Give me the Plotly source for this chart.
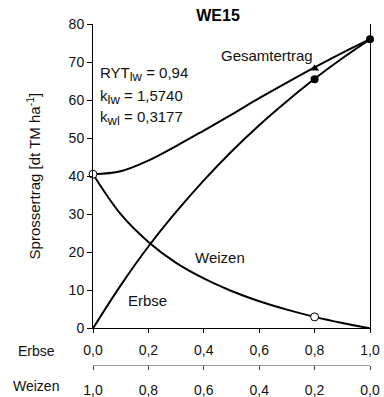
import plotly.graph_objects as go

# Anteil Erbse in der Mischung (Ersetzungsreihe)
anteil_erbse = [0.0, 0.1, 0.2, 0.3, 0.4, 0.5, 0.6, 0.7, 0.8, 0.9, 1.0]
achsen_werte = [0.0, 0.2, 0.4, 0.6, 0.8, 1.0]
beschriftung_erbse = ["0,0", "0,2", "0,4", "0,6", "0,8", "1,0"]
beschriftung_weizen = ["1,0", "0,8", "0,6", "0,4", "0,2", "0,0"]

# Angepasste Ertragskurven [dt TM/ha]
kurve_erbse = [0.0, 11.3, 21.5, 30.6, 38.9, 46.5, 53.4, 59.7, 65.6, 71.0, 76.0]
kurve_weizen = [40.5, 30.0, 22.7, 17.2, 13.1, 9.8, 7.1, 4.9, 3.0, 1.4, 0.0]
kurve_gesamt = [40.5, 41.3, 44.1, 47.9, 52.0, 56.2, 60.5, 64.6, 68.6, 72.4, 76.0]

# Gemessene Erträge
mess_x_weizen = [0.0, 0.8]
mess_weizen = [40.5, 3.0]
mess_x_erbse = [0.8, 1.0]
mess_erbse = [65.5, 76.0]
mess_x_gesamt = [0.8]
mess_gesamt = [68.3]

FONT = "Liberation Sans, Arial, sans-serif"
W, H = 384, 397
ML, MR, MT, MB = 93, 14, 24, 32
ph = H - MT - MB
y0_px = 328.3
dom_lo = (H - MB - y0_px) / ph

fig = go.Figure()

for ys in (kurve_gesamt, kurve_erbse, kurve_weizen):
    fig.add_trace(go.Scatter(
        x=anteil_erbse, y=ys, mode="lines",
        line=dict(color="black", width=2, shape="spline", smoothing=1.0),
        hoverinfo="skip", showlegend=False, cliponaxis=False))

fig.add_trace(go.Scatter(
    x=mess_x_gesamt, y=mess_gesamt, mode="markers",
    marker=dict(symbol="triangle-up", size=8, color="black"),
    showlegend=False, cliponaxis=False))
fig.add_trace(go.Scatter(
    x=mess_x_erbse, y=mess_erbse, mode="markers",
    marker=dict(symbol="circle", size=8, color="black"),
    showlegend=False, cliponaxis=False))
fig.add_trace(go.Scatter(
    x=mess_x_weizen, y=mess_weizen, mode="markers",
    marker=dict(symbol="circle", size=8, color="white",
                line=dict(color="black", width=1)),
    cliponaxis=False, showlegend=False))

# zweite Achse für den Weizenanteil
fig.add_trace(go.Scatter(
    x=[0, 1], y=[0, 0], xaxis="x2", mode="lines",
    line=dict(width=0), hoverinfo="skip", showlegend=False))

tick_font = dict(family=FONT, size=14, color="#111")

fig.update_layout(
    width=W, height=H,
    margin=dict(l=ML, r=MR, t=MT, b=MB, pad=0, autoexpand=False),
    paper_bgcolor="white", plot_bgcolor="white",
    font=dict(family=FONT, size=14, color="#111"),
    title=dict(text="<b>WE15</b>", font=dict(family=FONT, size=16, color="black"),
               x=218 / W, xanchor="center", xref="container",
               y=1 - 15 / H, yanchor="middle", yref="container"),
    xaxis=dict(domain=[0, 1], anchor="y", range=[0, 1], automargin=False,
               tickvals=achsen_werte, ticktext=beschriftung_erbse,
               ticks="outside", ticklen=4, tickcolor="black",
               showline=True, linecolor="black", linewidth=1,
               showgrid=False, zeroline=False, tickfont=tick_font,
               ticklabelstandoff=5),
    xaxis2=dict(overlaying="x", anchor="free", position=0, side="bottom",
                range=[0, 1], automargin=False,
                tickvals=achsen_werte, ticktext=beschriftung_weizen,
                ticks="outside", ticklen=4, tickcolor="#444",
                showline=True, linecolor="#999", linewidth=1,
                showgrid=False, zeroline=False, tickfont=tick_font,
                ticklabelstandoff=8),
    yaxis=dict(domain=[dom_lo, 1], range=[0, 80], dtick=10, automargin=False,
               ticks="outside", ticklen=5, tickcolor="black",
               showline=True, mirror=True, linecolor="black", linewidth=1,
               showgrid=False, zeroline=False, tickfont=tick_font,
               title=dict(text="Sprossertrag [dt TM ha<sup>-1</sup>]",
                          font=dict(family=FONT, size=15, color="#111"),
                          standoff=24)),
)

# Kennwerte
def sub(s):
    return "<sub><span style='font-size:13px'>" + s + "</span></sub>"

for txt, yv in (("RYT" + sub("lw") + " = 0,94", 66.8),
                ("k" + sub("lw") + " = 1,5740", 60.8),
                ("k" + sub("wl") + " = 0,3177", 55.3)):
    fig.add_annotation(x=0.019, y=yv, xref="x", yref="y", text=txt,
                       showarrow=False, xanchor="left", yanchor="middle",
                       font=dict(family=FONT, size=15, color="#111"))

# Kurvenbeschriftungen
for txt, xv, yv in (("Gesamtertrag", 0.628, 71.8),
                    ("Weizen", 0.459, 18.7),
                    ("Erbse", 0.196, 7.4)):
    fig.add_annotation(x=xv, y=yv, xref="x", yref="y", text=txt,
                       showarrow=False, xanchor="center", yanchor="middle",
                       font=dict(family=FONT, size=15, color="#111"))

# Zeilenbeschriftungen der beiden x-Achsen
for txt, ypx in (("Erbse", 351), ("Weizen", 386)):
    fig.add_annotation(x=(36 - ML) / (W - ML - MR), y=(H - MB - ypx) / ph,
                       xref="paper", yref="paper", text=txt, showarrow=False,
                       xanchor="center", yanchor="middle",
                       font=dict(family=FONT, size=14, color="#111"))

fig.write_html("out.html")
